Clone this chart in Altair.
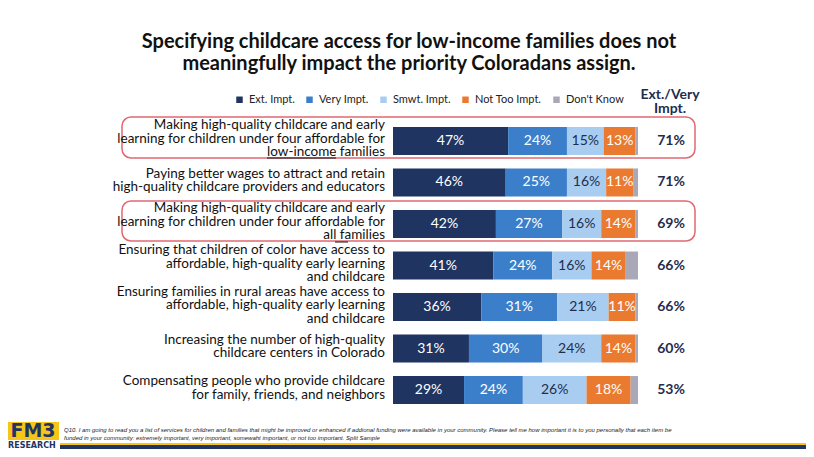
import altair as alt
import pandas as pd

items = [
    "Making high-quality childcare and early\nlearning for children under four affordable for\nlow-income families",
    "Paying better wages to attract and retain\nhigh-quality childcare providers and educators",
    "Making high-quality childcare and early\nlearning for children under four affordable for\nall families",
    "Ensuring that children of color have access to\naffordable, high-quality early learning\nand childcare",
    "Ensuring families in rural areas have access to\naffordable, high-quality early learning\nand childcare",
    "Increasing the number of high-quality\nchildcare centers in Colorado",
    "Compensating people who provide childcare\nfor family, friends, and neighbors",
]
categories = ["Ext. Impt.", "Very Impt.", "Smwt. Impt.", "Not Too Impt.", "Don't Know"]
ext = [47, 46, 42, 41, 36, 31, 29]
very = [24, 25, 27, 24, 31, 30, 24]
smwt = [15, 16, 16, 16, 21, 24, 26]
nottoo = [13, 11, 14, 14, 11, 14, 18]
dk = [1, 2, 1, 5, 1, 1, 3]
totals = [71, 71, 69, 66, 66, 60, 53]

colors = ["#1f3461", "#3b7fcb", "#a8cdf0", "#e97a2f", "#a8a8b8"]
text_colors = ["#ffffff", "#ffffff", "#1f2d4f", "#ffffff", "#ffffff"]

rows = []
for i, it in enumerate(items):
    vals = [ext[i], very[i], smwt[i], nottoo[i], dk[i]]
    start = 0
    for c, v, tc in zip(categories, vals, text_colors):
        rows.append({"item": it, "cat": c, "v": v, "start": start, "end": start + v,
                     "mid": start + v / 2, "lab": f"{v}%" if c != "Don't Know" else "",
                     "tc": tc})
        start += v
df = pd.DataFrame(rows)
tot_df = pd.DataFrame({"item": items, "tot": [f"{t}%" for t in totals]})

line_rows = []
for it in items:
    parts = it.split("\n")
    for k, p in enumerate(parts):
        line_rows.append({"item": it, "line": p, "n": len(parts), "k": k})
lines_df = pd.DataFrame(line_rows)

W, H = 798, 441
FONT = "Lato"
LH = 13.5

yscale = alt.Scale(domain=items, range=[112, 403], paddingInner=0.33, paddingOuter=0.17)
xscale = alt.Scale(domain=[0, 100], range=[383, 628])
Y = alt.Y("item:N", sort=items, scale=yscale, axis=None)

bars = alt.Chart(df).mark_bar(size=28).encode(
    x=alt.X("start:Q", scale=xscale, axis=None),
    x2="end:Q",
    y=Y,
    color=alt.Color("cat:N", scale=alt.Scale(domain=categories, range=colors),
                    legend=alt.Legend(title=None, orient="none", legendX=224, legendY=86,
                                      direction="horizontal", symbolType="square",
                                      symbolSize=42, labelFontSize=11, labelFont=FONT,
                                      labelColor="#222222", columnPadding=9,
                                      labelOffset=4, symbolStrokeWidth=0)),
)

seglabels = alt.Chart(df).mark_text(fontSize=14, font=FONT, baseline="middle").encode(
    x=alt.X("mid:Q", scale=xscale),
    y=Y,
    text="lab:N",
    color=alt.Color("tc:N", scale=None),
)

label_layers = []
for n in (2, 3):
    for k in range(n):
        dy = (k - (n - 1) / 2) * LH - 2
        label_layers.append(
            alt.Chart(lines_df).transform_filter(
                (alt.datum.n == n) & (alt.datum.k == k)
            ).mark_text(align="right", baseline="middle", fontSize=13.5, font=FONT,
                        color="#111111", dy=dy).encode(
                x=alt.value(375), y=Y, text="line:N")
        )

totlabels = alt.Chart(tot_df).mark_text(
    align="center", baseline="middle", fontSize=14, font=FONT, fontWeight="bold",
    color="#1f2d4f"
).encode(x=alt.value(661), y=Y, text="tot:N")

one = pd.DataFrame({"a": [0]})

title = alt.Chart(one).mark_text(
    align="center", baseline="middle", lineBreak="\n", fontSize=20, font=FONT,
    fontWeight="bold", lineHeight=22, color="#111111"
).encode(x=alt.value(399), y=alt.value(34),
         text=alt.value("Specifying childcare access for low-income families does not\nmeaningfully impact the priority Coloradans assign."))

header = alt.Chart(one).mark_text(
    align="center", baseline="middle", lineBreak="\n", fontSize=14, font=FONT,
    fontWeight="bold", lineHeight=14, color="#1f2d4f"
).encode(x=alt.value(660), y=alt.value(87), text=alt.value("Ext./Very\nImpt."))

boxes_df = pd.DataFrame({"y": [109, 193], "y2": [150, 233]})
boxes = alt.Chart(boxes_df).mark_rect(
    fill=None, stroke="#e06870", strokeWidth=1.5, cornerRadius=9
).encode(x=alt.value(112), x2=alt.value(685), y=alt.Y("y:Q", scale=None), y2="y2:Q")

ul_df = pd.DataFrame({"x": [257, 325], "x2": [326, 338], "y": [150, 234]})
underline = alt.Chart(ul_df).mark_rule(color="#111111", strokeWidth=1).encode(
    x=alt.X("x:Q", scale=None), x2="x2:Q", y=alt.Y("y:Q", scale=None))

# footer
logo_box = alt.Chart(one).mark_rect(color="#f5c518").encode(
    x=alt.value(-2), x2=alt.value(49), y=alt.value(414), y2=alt.value(432))
logo_txt = alt.Chart(one).mark_text(
    align="center", baseline="middle", fontSize=19, font="DejaVu Sans", fontWeight="bold",
    color="#1f3461").encode(x=alt.value(23), y=alt.value(423), text=alt.value("FM3"))
research = alt.Chart(one).mark_text(
    align="left", baseline="middle", fontSize=8, font="DejaVu Sans", fontWeight="bold",
    color="#1f3461").encode(x=alt.value(-2), y=alt.value(438), text=alt.value("RESEARCH"))
gold_line = alt.Chart(one).mark_rect(color="#f5c518").encode(
    x=alt.value(50), x2=alt.value(W), y=alt.value(435), y2=alt.value(437))
navy_bar = alt.Chart(one).mark_rect(color="#1f3461").encode(
    x=alt.value(50), x2=alt.value(W), y=alt.value(437), y2=alt.value(H))
footnote = alt.Chart(one).mark_text(
    align="left", baseline="middle", lineBreak="\n", fontSize=6, font="Liberation Sans",
    fontStyle="italic", lineHeight=8, color="#222222").encode(
    x=alt.value(54), y=alt.value(422),
    text=alt.value("Q10. I am going to read you a list of services for children and families that might be improved or enhanced if addional funding were available in your community. Please tell me how important it is to you personally that each item be\nfunded in your community: extremely important, very important, somewaht important, or not too important. Split Sample"))

chart = alt.layer(
    title, header, boxes, bars, seglabels, *label_layers, totlabels, underline,
    logo_box, logo_txt, research, gold_line, navy_bar, footnote
).properties(
    width=W, height=H, padding=0,
    autosize=alt.AutoSizeParams(type="fit", contains="padding"),
    background="#ffffff",
).configure_view(stroke=None)

chart.save("out.html", embed_options={"renderer": "svg", "actions": False})
